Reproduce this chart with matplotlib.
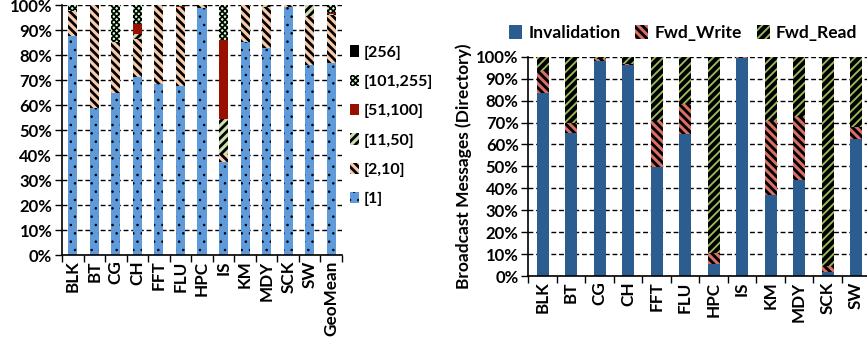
import numpy as np
import matplotlib.pyplot as plt
from matplotlib.ticker import PercentFormatter, FixedLocator

plt.rcParams['font.family'] = ['Lato', 'DejaVu Sans']
plt.rcParams['font.weight'] = 'bold'

# sharer-count distribution per benchmark (left panel), fractions in %
apps_left = ['BLK', 'BT', 'CG', 'CH', 'FFT', 'FLU', 'HPC', 'IS', 'KM', 'MDY',
             'SCK', 'SW', 'GeoMean']
share_labels = ['[1]', '[2,10]', '[11,50]', '[51,100]', '[101,255]', '[256]']
s_1 = [87.7, 58.9, 64.9, 71.2, 68.4, 67.7, 98.9, 37.2, 85.3, 83.0, 99.3, 76.0, 76.7]
s_2_10 = [10.0, 41.1, 20.4, 15.1, 31.6, 31.6, 1.1, 3.1, 14.7, 16.3, 0.7, 19.7, 19.3]
s_11_50 = [0, 0, 0, 2.0, 0, 0, 0, 14.0, 0, 0.7, 0, 4.3, 0.3]
s_51_100 = [0, 0, 0, 4.1, 0, 0.5, 0, 31.7, 0, 0, 0, 0, 0.7]
s_101_255 = [2.3, 0, 14.7, 7.6, 0, 0.2, 0, 14.0, 0, 0, 0, 0, 3.0]
s_256 = [0] * 13

# broadcast message breakdown (right panel), %
apps_right = ['BLK', 'BT', 'CG', 'CH', 'FFT', 'FLU', 'HPC', 'IS', 'KM', 'MDY',
              'SCK', 'SW']
msg_labels = ['Invalidation', 'Fwd_Write', 'Fwd_Read']
invalidation = [83.3, 65.3, 98.2, 96.1, 49.8, 64.6, 5.6, 99.5, 37.1, 43.8, 1.7, 62.5]
fwd_write = [10.2, 4.6, 0.8, 0.7, 20.9, 14.0, 4.9, 0.2, 33.4, 28.8, 2.7, 5.4]
fwd_read = [6.5, 30.1, 1.0, 3.2, 29.3, 21.4, 89.5, 0.3, 29.5, 27.4, 95.6, 32.1]

left_styles = [
    dict(color='#5F9BDB', hatch='..', hlw=0.6),
    dict(color='#F8CBAD', hatch='\\\\\\\\', hlw=2.0),
    dict(color='#D0DFB2', hatch='////', hlw=2.0),
    dict(color='#981000', hatch=None, hlw=1.0),
    dict(color='#CCFFCC', hatch='xxxxxx', hlw=1.2),
    dict(color='#000000', hatch=None, hlw=1.0),
]
right_styles = [
    dict(color='#2B5D91', hatch=None, hlw=1.0),
    dict(color='#DA6F65', hatch='\\\\\\\\', hlw=2.1),
    dict(color='#9BBB59', hatch='////', hlw=2.9),
]


def hatch_width(artist, lw):
    # hatch line width is taken from rcParams when the patch is drawn
    orig = artist.draw

    def draw(renderer):
        with plt.rc_context({'hatch.linewidth': lw}):
            orig(renderer)
    artist.draw = draw
    if hasattr(artist, 'set_hatch_linewidth'):
        artist.set_hatch_linewidth(lw)


def stacked(ax, cats, series, labels, styles, width):
    x = np.arange(len(cats))
    bottom = np.zeros(len(cats))
    handles = []
    for vals, lab, st in zip(series, labels, styles):
        vals = np.array(vals, dtype=float)
        bars = ax.bar(x, vals, width, bottom=bottom, color=st['color'],
                      hatch=st['hatch'], edgecolor='black', linewidth=0,
                      label=lab, zorder=2)
        for b in bars:
            hatch_width(b, st['hlw'])
        handles.append(bars)
        bottom += vals
    return handles


def style_axis(ax, cats, fs):
    n = len(cats)
    ax.set_xlim(-0.5, n - 0.5)
    ax.set_ylim(0, 100)
    ax.yaxis.set_major_locator(FixedLocator(np.arange(0, 101, 10)))
    ax.yaxis.set_major_formatter(PercentFormatter(decimals=0))
    ax.set_xticks(np.arange(n))
    ax.set_xticklabels(cats, rotation=90, fontsize=fs, fontweight='bold')
    ax.set_xticks(np.arange(n + 1) - 0.5, minor=True)
    ax.tick_params(axis='x', which='major', length=0, pad=4)
    ax.tick_params(axis='x', which='minor', length=5, width=1, direction='out')
    ax.tick_params(axis='y', length=5, width=1, labelsize=12, pad=2)
    for lab in ax.get_yticklabels():
        lab.set_fontweight('bold')
    ax.grid(axis='y', color='black', linestyle=(0, (3.5, 2)), linewidth=1,
            zorder=1)
    ax.set_axisbelow(True)
    for side in ('top', 'right'):
        ax.spines[side].set_visible(False)
    for side in ('left', 'bottom'):
        ax.spines[side].set_linewidth(1.2)
        ax.spines[side].set_zorder(3)


fig = plt.figure(figsize=(8.67, 3.4), dpi=100)

ax1 = fig.add_axes([0.0715, 0.25, 0.323, 0.735])
h1 = stacked(ax1, apps_left, [s_1, s_2_10, s_11_50, s_51_100, s_101_255, s_256],
             share_labels, left_styles, 0.42)
style_axis(ax1, apps_left, 12.3)
leg1 = ax1.legend(h1[::-1], share_labels[::-1], loc='center left',
                  bbox_to_anchor=(0.394, 0.63), bbox_transform=fig.transFigure,
                  frameon=False, handlelength=0.6, handleheight=0.7,
                  handletextpad=0.3, labelspacing=0.95, borderpad=0,
                  prop={'weight': 'bold', 'size': 11.5})
for hd, st in zip(leg1.legend_handles, left_styles[::-1]):
    hatch_width(hd, st['hlw'])

ax2 = fig.add_axes([0.6094, 0.1882, 0.4273, 0.645])
h2 = stacked(ax2, apps_right, [invalidation, fwd_write, fwd_read],
             msg_labels, right_styles, 0.42)
style_axis(ax2, apps_right, 12.3)
ax2.set_xlim(-0.5, len(apps_right) + 0.5)
ax2.set_ylabel('Broadcast Messages (Directory)', fontsize=12.5,
               fontweight='bold', labelpad=3)
leg2 = fig.legend(h2, msg_labels, loc='center', bbox_to_anchor=(0.788, 0.903),
                  ncol=3, frameon=False, handlelength=0.75, handleheight=0.8,
                  handletextpad=0.35, columnspacing=0.85, borderpad=0,
                  prop={'weight': 'bold', 'size': 12.6})
for hd, st in zip(leg2.legend_handles, right_styles):
    hatch_width(hd, st['hlw'])

fig.savefig('out.png', dpi=100)
